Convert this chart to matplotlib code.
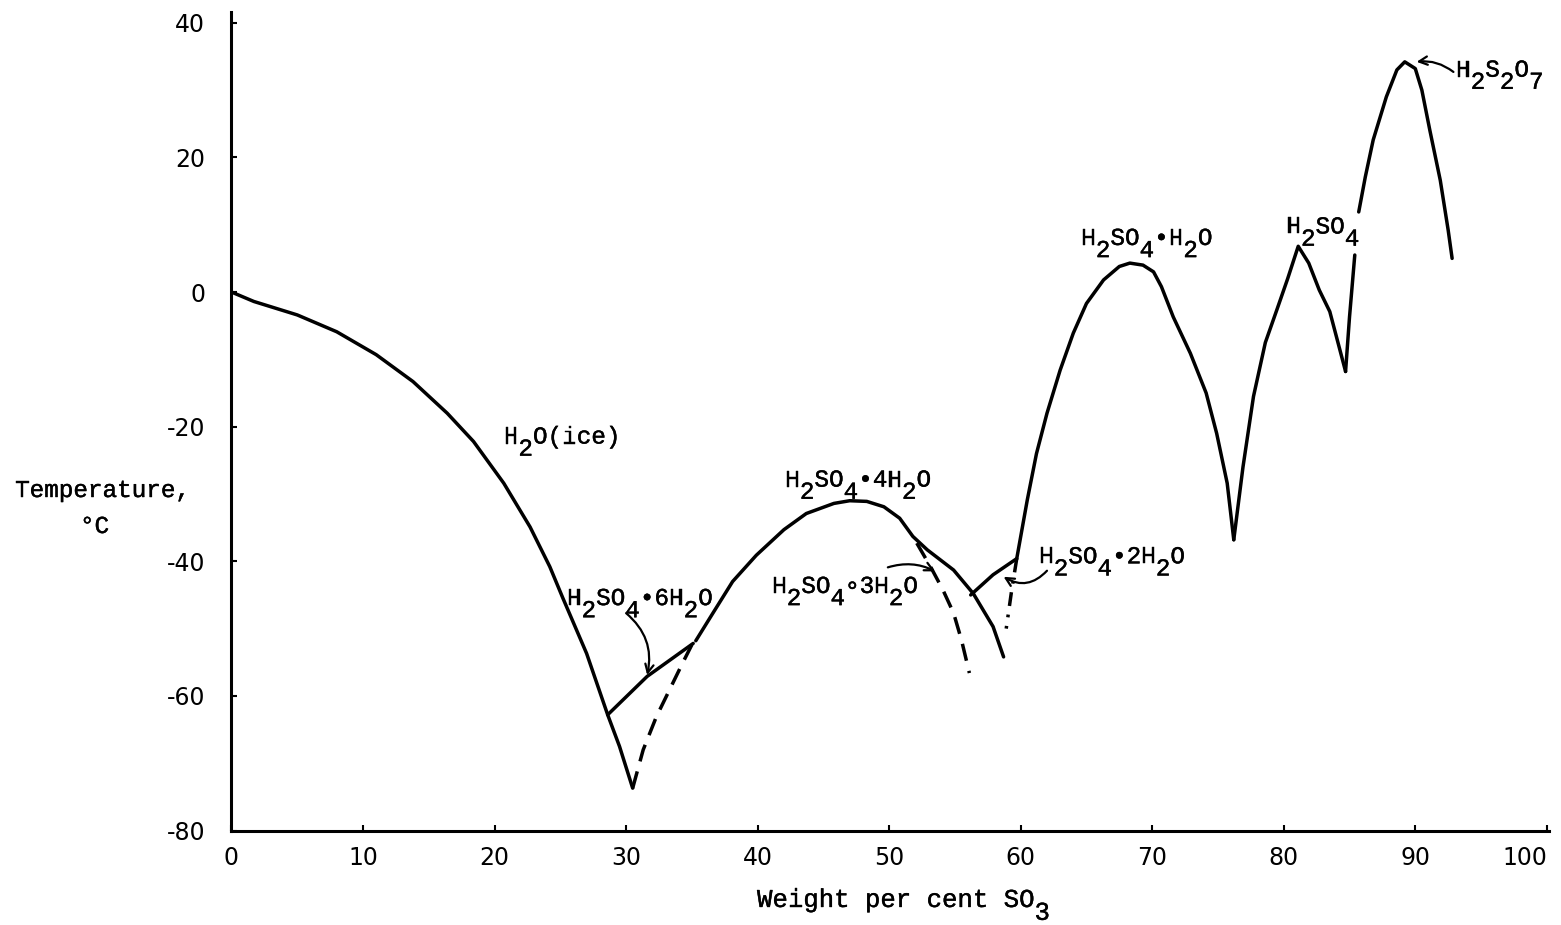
import numpy as np
import matplotlib
matplotlib.use("Agg")
import matplotlib.pyplot as plt
import matplotlib.patheffects as pe

plt.rcParams["axes.unicode_minus"] = False

nan = np.nan
MONO = ["Liberation Mono", "DejaVu Sans Mono"]

# freezing-point curves (x = wt % SO3, y = deg C)
ICE_X = [0, 1.7, 5.0, 8.0, 11.0, 13.8, 16.4, 18.4, 20.7, 22.7, 24.2, 25.2, 27.0, 28.6, 29.5, 30.5]
ICE_Y = [0, -1.4, -3.4, -5.9, -9.3, -13.3, -18.0, -22.2, -28.4, -34.9, -40.8, -45.5, -53.7, -62.8, -67.5, -73.7]

HEXA_X = [28.6, 31.6, 35.1]
HEXA_Y = [-62.8, -57.1, -52.2]
HEXA_META_X = [30.5, 31.3, 32.3, 33.3, 34.3, 35.0]
HEXA_META_Y = [-73.7, -68.0, -63.1, -59.1, -55.1, -52.4]

TETRA_X = [35.3, 36.6, 38.1, 39.9, 42.0, 43.7, 45.8, 47.0, 48.3, 49.6, 50.8, 51.8,
           52.9, 54.9, 56.4, 57.9, 58.7]
TETRA_Y = [-51.8, -47.7, -43.0, -39.1, -35.3, -32.9, -31.4, -31.0, -31.1, -31.9, -33.6, -36.3,
           -38.3, -41.3, -44.8, -49.7, -54.2]

TRI_META_X = [52.1, 53.2, 54.1, 54.9, 55.5, 56.1]
TRI_META_Y = [-37.3, -41.0, -44.3, -47.7, -51.7, -56.6]

DI_X = [56.2, 57.9, 59.7]
DI_Y = [-45.0, -42.0, -39.6]
DI_META_X = [59.7, 59.3, 58.9]
DI_META_Y = [-39.6, -44.5, -50.0]

MONO_X = [59.7, 60.5, 61.2, 62.0, 63.0, 64.0, 65.0, 66.3, 67.5, 68.3, 69.3, 70.1, 70.7,
          71.6, 72.9, 74.1, 74.9, 75.7, 76.2]
MONO_Y = [-39.6, -30.9, -24.0, -18.0, -11.6, -6.1, -1.7, 1.8, 3.8, 4.3, 4.0, 3.0, 0.8,
          -3.7, -9.1, -15.0, -21.0, -28.4, -36.8]

ACID_X = [76.2, 76.9, 77.7, 78.6, 79.5, 80.3, 81.1, 81.9, 82.7, 83.5, 84.0, 84.7]
ACID_Y = [-36.8, -26.0, -15.5, -7.5, -2.5, 2.0, 6.8, 4.3, 0.3, -2.9, -6.6, -11.8]

# pyrosulphuric branch; the nan is the break under the H2SO4 label
PYRO_X = [84.7, 85.0, 85.4, nan, 85.7, 86.2, 86.8, 87.8, 88.6, 89.2, 90.0, 90.5, 91.1,
          91.9, 92.5, 92.8]
PYRO_Y = [-11.8, -3.7, 5.5, nan, 11.9, 17.1, 22.6, 29.0, 33.0, 34.2, 33.2, 30.0, 24.1,
          16.6, 9.2, 5.0]

# phase labels: text ("_" = typed one half-line down), left x, baseline y
LABELS = [
    ("H_2O(ice)", 20.7, -22.5),
    ("H_2SO_4\u20226H_2O", 25.5, -46.5),
    ("H_2SO_4\u20224H_2O", 42.1, -28.9),
    ("H_2SO_4\u22183H_2O", 41.1, -44.7),
    ("H_2SO_4\u20222H_2O", 61.4, -40.3),
    ("H_2SO_4\u2022H_2O", 64.6, 7.0),
    ("H_2SO_4", 80.2, 8.7),
    ("H_2S_2O_7", 93.1, 32.0),
]
# pointer arrows: tail, head, bend
ARROWS = [
    ((30.0, -47.7), (31.6, -56.9), -0.3),
    ((49.9, -40.9), (53.5, -41.5), -0.2),
    ((62.0, -41.4), (58.7, -42.3), -0.4),
    ((92.9, 32.7), (90.1, 34.2), 0.2),
]
X_TICKS = list(range(0, 101, 10))
Y_TICKS = list(range(-80, 41, 20))

SIZE = 17.5
LW = 2.5
INK = [pe.withStroke(linewidth=0.3, foreground="black")]   # typewriter ink is a bit heavier


def typed(ax, x, y, s, coords="data", size=SIZE):
    """Typewriter-style text: fixed pitch, subscripts typed half a line lower."""
    adv = 0.6 * size
    col, i = 0, 0
    while i < len(s):
        low = s[i] == "_"
        if low:
            i += 1
        ax.annotate(s[i], (x, y), xycoords=coords,
                    xytext=(col * adv + adv / 2, -0.5 * size if low else 0),
                    textcoords="offset points", fontsize=size, family=MONO,
                    ha="center", va="baseline", path_effects=INK)
        col += 1
        i += 1


fig = plt.figure(figsize=(15.61, 9.25), dpi=100)
ax = fig.add_axes([0.1483, 0.1021, 0.8443, 0.8849])

solid = dict(color="black", lw=LW, solid_joinstyle="round", solid_capstyle="round")
for xs, ys in [(ICE_X, ICE_Y), (HEXA_X, HEXA_Y), (TETRA_X, TETRA_Y), (DI_X, DI_Y),
               (MONO_X, MONO_Y), (ACID_X, ACID_Y), (PYRO_X, PYRO_Y)]:
    ax.plot(xs, ys, **solid)
ax.plot(HEXA_META_X, HEXA_META_Y, color="black", lw=LW, dashes=(5, 3))
ax.plot(TRI_META_X, TRI_META_Y, color="black", lw=LW, dashes=(5, 3))
ax.plot(DI_META_X, DI_META_Y, color="black", lw=LW, dashes=(4, 2.5, 0.8, 2.5))

for s, x, y in LABELS:
    typed(ax, x, y, s)
for tail, head, rad in ARROWS:
    ax.annotate("", head, xytext=tail,
                arrowprops=dict(arrowstyle="->,head_length=0.6,head_width=0.3", lw=1.6,
                                color="black", shrinkA=0, shrinkB=0,
                                connectionstyle=f"arc3,rad={rad}"))

ax.set_xlim(0, 100.2)
ax.set_ylim(-80, 41.6)
ax.set_xticks(X_TICKS)
ax.set_yticks(Y_TICKS)
ax.tick_params(direction="in", length=4, width=1.5, labelsize=17, labelcolor="black")
ax.tick_params(axis="x", pad=11)
ax.tick_params(axis="y", pad=19)
for lab in ax.get_xticklabels() + ax.get_yticklabels():
    lab.set_fontfamily("DejaVu Sans")
ax.get_xticklabels()[-1].set_horizontalalignment("right")   # 100 sits at the page edge
for side in ("top", "right"):
    ax.spines[side].set_visible(False)
for side in ("left", "bottom"):
    ax.spines[side].set_linewidth(2.2)

# axis titles, typed like the labels
typed(ax, 0.0096, 0.4627, "Temperature,", coords="figure fraction")
typed(ax, 0.0512, 0.4238, "\u00b0C", coords="figure fraction")
typed(ax, 0.485, 0.0195, "Weight per cent SO_3", coords="figure fraction", size=18.5)

fig.savefig("out.png", dpi=100)
